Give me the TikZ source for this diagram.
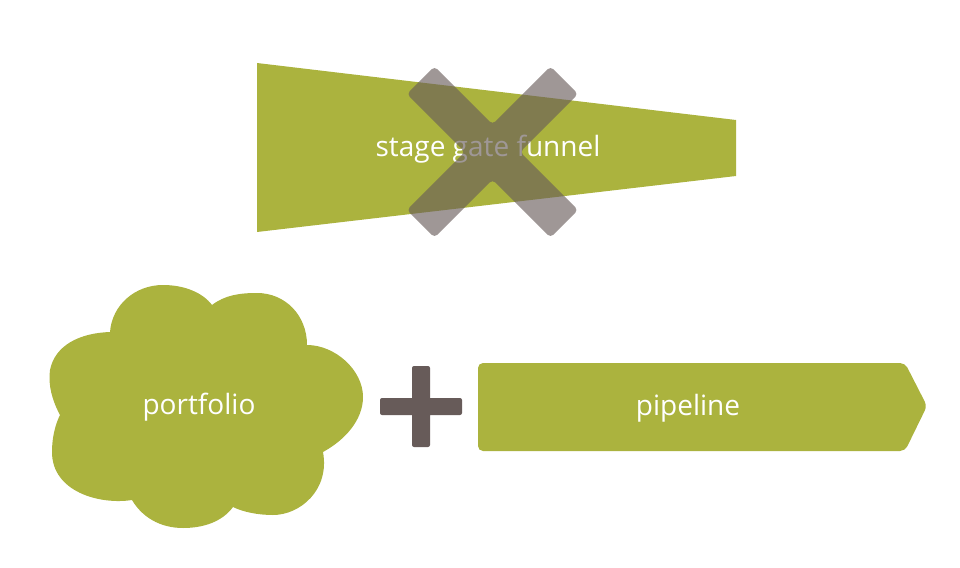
\documentclass[tikz,border=0pt]{standalone}
\usepackage{fontspec}
\setmainfont{Open Sans}
\usepackage{tikz}
\definecolor{leaf}{HTML}{ABB33E}
\definecolor{stone}{HTML}{675B59}

\begin{document}
\begin{tikzpicture}[x=1pt,y=-1pt,
  blob/.style={fill=leaf},
  word/.style={text=white,anchor=base,inner sep=0pt,
    font=\fontsize{28}{32}\selectfont},
  xmark/.style={fill=stone,opacity=0.63,rounded corners=4pt},
  plussign/.style={fill=stone,rounded corners=2pt}]
\useasboundingbox (0,0) rectangle (960,567);
% funnel, crossed out
\fill[blob] (257,63) -- (736,120) -- (736,176) -- (257,232) -- cycle;
\node[word] (funnel) at (488,156) {stage gate funnel};
\fill[xmark] (492.5,124.4) -- (550.5,66.4) -- (578.1,94) -- (520.1,152)
  -- (578.1,210) -- (550.5,237.6) -- (492.5,179.6) -- (434.5,237.6)
  -- (406.9,210) -- (464.9,152) -- (406.9,94) -- (434.5,66.4) -- cycle;
% portfolio cloud
\fill[blob] (110,332) .. controls (112,305) and (135,285) .. (163,285)
  .. controls (185,285) and (203,293) .. (212,305)
  .. controls (225,295) and (240,293) .. (257,293)
  .. controls (285,293) and (307,315) .. (307,345)
  .. controls (335,345) and (363,370) .. (363,397)
  .. controls (363,420) and (345,440) .. (323,452)
  .. controls (330,490) and (300,515) .. (273,515)
  .. controls (258,515) and (243,512) .. (233,507)
  .. controls (222,522) and (203,528) .. (183,528)
  .. controls (160,528) and (142,517) .. (132,500)
  .. controls (100,505) and (52,492) .. (52,452)
  .. controls (52,438) and (55,425) .. (60,415)
  .. controls (52,400) and (48,385) .. (50,370)
  .. controls (55,345) and (80,333) .. (110,332) -- cycle;
\node[word] (portfolio) at (199,414) {portfolio};
% plus
\fill[plussign] (412,366) rectangle (430,447) (380,398) rectangle (462,415);
% pipeline arrow
\fill[blob,rounded corners=5pt] (478,363) -- (905,363) -- (927,406)
  -- (905,451) -- (478,451) -- cycle;
\node[word] (pipeline) at (688,415) {pipeline};
\end{tikzpicture}
\end{document}
